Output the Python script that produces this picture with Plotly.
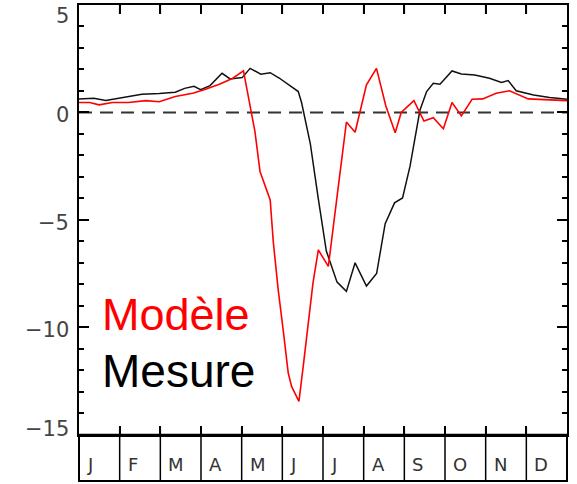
import plotly.graph_objects as go

# Day-of-year positions and values
mesure_days = [0, 11, 20, 25, 37, 47, 60, 72, 79, 86, 91, 98, 107, 113, 122, 128, 136, 143, 150,
               164, 166.5, 173, 179, 185, 193, 200, 206.5, 215, 222.6, 229, 236, 242, 247.6, 255,
               260, 265, 270, 279, 286, 296, 307, 316, 321, 327, 340, 352, 365]
mesure_vals = [0.63, 0.66, 0.55, 0.61, 0.74, 0.85, 0.88, 0.94, 1.12, 1.22, 1.06, 1.25, 1.82, 1.56, 1.62,
               2.05, 1.78, 1.85, 1.59, 0.97, 0.45, -1.45, -4.02, -6.45, -7.9, -8.33, -7.0, -8.08, -7.5,
               -5.18, -4.21, -3.98, -2.5, 0.1, 0.97, 1.36, 1.31, 1.93, 1.79, 1.74, 1.59, 1.39, 1.48,
               1.01, 0.81, 0.69, 0.61]

modele_days = [0, 8, 15, 25, 37, 50, 60, 72, 85, 93.5, 105, 115, 123, 129, 131.6, 135.4, 137.9, 143,
               145.3, 149, 153, 156.5, 159, 164.5, 168, 171.5, 175, 179, 186.5, 192.7, 200, 206.5,
               211, 215, 222.5, 229.5, 236.5, 241, 250.5, 258, 265, 272.5, 279, 286, 294, 302, 312,
               322, 336, 353.5, 365]
modele_vals = [0.46, 0.46, 0.35, 0.46, 0.46, 0.55, 0.50, 0.74, 0.89, 1.05, 1.31, 1.59, 1.93, -0.04, -0.89,
               -2.75, -3.22, -4.07, -6.01, -8.26, -10.27, -12.13, -12.75, -13.45, -11.67, -9.8, -7.95,
               -6.4, -7.17, -4.07, -0.45, -0.92, 0.3, 1.28, 2.05, 0.3, -0.95, 0.0, 0.55, -0.4, -0.25,
               -0.76, 0.46, -0.16, 0.61, 0.63, 0.89, 1.01, 0.63, 0.58, 0.55]

month_labels = ["J", "F", "M", "A", "M", "J", "J", "A", "S", "O", "N", "D"]
y_tick_vals = [5, 0, -5, -10, -15]
y_tick_text = ["5", "0", "\u22125", "\u221210", "\u221215"]
y_label_shift = [-11, -3, -3, -2.5, 6]

W, H = 577, 484
PLOT_H = 476
BAND = 0.0973

fig = go.Figure()
fig.add_trace(go.Scatter(x=mesure_days, y=mesure_vals, mode="lines",
                         line=dict(color="#111111", width=1.5), showlegend=False))
fig.add_trace(go.Scatter(x=modele_days, y=modele_vals, mode="lines",
                         line=dict(color="#ff0000", width=1.6), showlegend=False))

bounds = [k * 365 / 12 for k in range(13)]

fig.update_layout(
    width=W, height=H,
    margin=dict(l=79, r=10, t=5, b=3),
    paper_bgcolor="white", plot_bgcolor="white",
    showlegend=False,
    xaxis=dict(range=[0, 365], showline=True, linewidth=2, linecolor="black", mirror="ticks",
               ticks="inside", tickvals=bounds, ticklen=9, tickwidth=1.5, tickcolor="black",
               showticklabels=False, showgrid=False, zeroline=False, fixedrange=True),
    yaxis=dict(range=[-15, 5], domain=[BAND, 1], showline=True, linewidth=2, linecolor="black",
               mirror="ticks", ticks="inside", tickvals=y_tick_vals, ticklen=10, tickwidth=1.5,
               tickcolor="black", showticklabels=False, showgrid=False, zeroline=False,
               minor=dict(tickvals=list(range(-15, 6)), ticks="inside", ticklen=5, tickwidth=1.5,
                          tickcolor="black", showgrid=False)),
)

shapes = []
shapes.append(dict(type="line", xref="paper", yref="y", x0=0, x1=1, y0=0, y1=0,
                   line=dict(color="#333333", width=2, dash="13px,8px"), layer="below"))
shapes.append(dict(type="rect", xref="paper", yref="paper", x0=0, x1=1, y0=0, y1=BAND,
                   line=dict(color="black", width=2)))
for k in range(1, 12):
    # month separators in the band, protruding into the plot as bottom ticks
    shapes.append(dict(type="line", xref="paper", yref="paper", x0=k / 12, x1=k / 12,
                       y0=0, y1=BAND + 8 / PLOT_H, line=dict(color="black", width=1.5)))
    # top ticks
    shapes.append(dict(type="line", xref="paper", yref="paper", x0=k / 12, x1=k / 12,
                       y0=1, y1=1 - 9 / PLOT_H, line=dict(color="black", width=1.5)))
fig.update_layout(shapes=shapes)

ann = []
for k, m in enumerate(month_labels):
    ann.append(dict(text=m, xref="paper", yref="paper", x=k / 12, y=(481 - 464) / PLOT_H,
                    xanchor="left", yanchor="middle", xshift=6, showarrow=False,
                    font=dict(family="DejaVu Sans", size=18, color="#333333")))
for v, t, s in zip(y_tick_vals, y_tick_text, y_label_shift):
    ann.append(dict(text=t, xref="paper", yref="y", x=0, y=v, xanchor="right", yanchor="middle",
                    xshift=-8, yshift=s, showarrow=False,
                    font=dict(family="DejaVu Sans", size=21, color="#444444")))
ann.append(dict(text="Modèle", xref="paper", yref="paper", x=(102.7 - 79) / 488, y=(481 - 314.5) / PLOT_H,
                xanchor="left", yanchor="middle", showarrow=False, xshift=-3,
                font=dict(family="Liberation Sans", size=45, color="#ff0000")))
ann.append(dict(text="Mesure", xref="paper", yref="paper", x=(102.7 - 79) / 488, y=(481 - 371) / PLOT_H,
                xanchor="left", yanchor="middle", showarrow=False, xshift=-3,
                font=dict(family="Liberation Sans", size=46, color="#000000")))
fig.update_layout(annotations=ann)

fig.write_html("out.html", config={"displayModeBar": False},
               post_script="document.body.style.margin='0';document.body.style.overflow='hidden';")
